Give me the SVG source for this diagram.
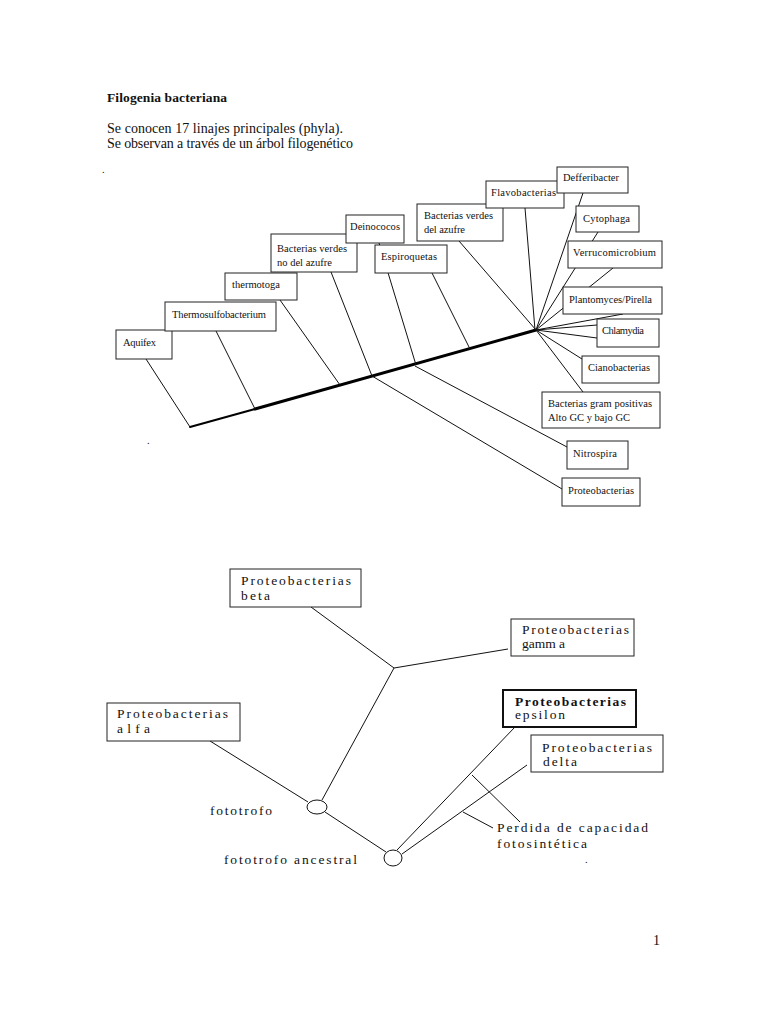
<svg xmlns="http://www.w3.org/2000/svg" width="768" height="1024" viewBox="0 0 768 1024">
<style>
text{font-family:"Liberation Serif","Times New Roman",serif;fill:#111}
.h{font-size:13.5px;font-weight:bold}
.p{font-size:14px}
.s{font-size:10.5px}
.l{font-size:13.5px}
.box{fill:#fff;stroke:#222;stroke-width:1}
.box2{fill:#fff;stroke:#111;stroke-width:2}
.c{stroke:#111;stroke-width:1;fill:none}
.main{stroke:#000;fill:none;stroke-linecap:round}
.ell{fill:#fff;stroke:#111;stroke-width:1}
</style>
<rect width="768" height="1024" fill="#fff"/>
<text class="h" x="107" y="102" textLength="120">Filogenia bacteriana</text>
<text class="p" x="107" y="133" textLength="236">Se conocen 17 linajes principales (phyla).</text>
<text class="p" x="107" y="148" textLength="246">Se observan a través de un árbol filogenético</text>
<text class="s" x="102" y="173">.</text>
<text class="s" x="147" y="444">.</text>
<text class="s" x="585" y="863">.</text>
<text class="p" x="653" y="945">1</text>

<g id="connectors">
<path class="main" stroke-width="2" d="M190 427 L255 409"/>
<path class="main" stroke-width="3" d="M255 409 L536 330"/>
<path class="c" d="M146 359 L190 427"/>
<path class="c" d="M216 331 L255 409"/>
<path class="c" d="M280 300 L340 385"/>
<path class="c" d="M331 272 L372 376"/>
<path class="c" d="M379 243 L416 365"/>
<path class="c" d="M432 273 L470 349"/>
<path class="c" d="M459 241 L536 330"/>
<path class="c" d="M525 208 L535 330"/>
<path class="c" d="M583 193 L536 330"/>
<path class="c" d="M598 232 L536 330"/>
<path class="c" d="M613 268 L536 330"/>
<path class="c" d="M623 314 L536 330"/>
<path class="c" d="M536 330 L597 325"/>
<path class="c" d="M536 330 L597 338"/>
<path class="c" d="M536 330 L582 359"/>
<path class="c" d="M536 330 L583 392"/>
<path class="c" d="M415 366 L567 447"/>
<path class="c" d="M372 376 L562 489"/>
<path class="c" d="M311 607 L394 668"/>
<path class="c" d="M508 649 L394 668"/>
<path class="c" d="M394 668 L322 800"/>
<path class="c" d="M210 741 L308 802"/>
<path class="c" d="M325 812 L386 852"/>
<path class="c" d="M397 850 L515 727"/>
<path class="c" d="M402 854 L527 765"/>
<path class="c" d="M472 775 L520 822"/>
<path class="c" d="M463 812 L493 828"/>
</g>

<g id="aquifex"><rect class="box" x="116" y="330" width="56" height="29"/><text class="s" x="123" y="346" textLength="33">Aquifex</text></g>
<g id="thermosulfobacterium"><rect class="box" x="165" y="302" width="111" height="29"/><text class="s" x="172" y="318" textLength="94">Thermosulfobacterium</text></g>
<g id="thermotoga"><rect class="box" x="225" y="273" width="72" height="27"/><text class="s" x="232" y="288" textLength="48">thermotoga</text></g>
<g id="bacterias-verdes-no-azufre"><rect class="box" x="271" y="234" width="86" height="38"/><text class="s" x="277" y="252" textLength="70">Bacterias verdes</text><text class="s" x="277" y="266" textLength="55">no del azufre</text></g>
<g id="deinococos"><rect class="box" x="346" y="215" width="58" height="28"/><text class="s" x="350" y="230" textLength="50">Deinococos</text></g>
<g id="espiroquetas"><rect class="box" x="375" y="245" width="72" height="28"/><text class="s" x="381" y="260" textLength="56">Espiroquetas</text></g>
<g id="bacterias-verdes-azufre"><rect class="box" x="417" y="204" width="86" height="37"/><text class="s" x="424" y="219" textLength="69">Bacterias verdes</text><text class="s" x="424" y="233" textLength="41">del azufre</text></g>
<g id="flavobacterias"><rect class="box" x="486" y="181" width="78" height="27"/><text class="s" x="491" y="196" textLength="65">Flavobacterias</text></g>
<g id="defferibacter"><rect class="box" x="557" y="167" width="71" height="26"/><text class="s" x="563" y="181" textLength="56">Defferibacter</text></g>
<g id="cytophaga"><rect class="box" x="576" y="206" width="63" height="26"/><text class="s" x="583" y="222" textLength="47">Cytophaga</text></g>
<g id="verrucomicrobium"><rect class="box" x="568" y="241" width="94" height="27"/><text class="s" x="573" y="256" textLength="83">Verrucomicrobium</text></g>
<g id="plantomyces"><rect class="box" x="563" y="287" width="99" height="27"/><text class="s" x="569" y="303" textLength="83">Plantomyces/Pirella</text></g>
<g id="chlamydia"><rect class="box" x="597" y="319" width="62" height="28"/><text class="s" x="602" y="334" textLength="42">Chlamydia</text></g>
<g id="cianobacterias"><rect class="box" x="582" y="356" width="77" height="27"/><text class="s" x="588" y="371" textLength="62">Cianobacterias</text></g>
<g id="gram-positivas"><rect class="box" x="542" y="392" width="118" height="36"/><text class="s" x="548" y="407" textLength="104">Bacterias gram positivas</text><text class="s" x="548" y="421" textLength="82">Alto GC y bajo GC</text></g>
<g id="nitrospira"><rect class="box" x="567" y="441" width="61" height="28"/><text class="s" x="573" y="457" textLength="44">Nitrospira</text></g>
<g id="proteobacterias"><rect class="box" x="562" y="478" width="78" height="28"/><text class="s" x="568" y="494" textLength="66">Proteobacterias</text></g>

<g id="proteo-beta"><rect class="box" x="230" y="569" width="131" height="38"/><text class="l" x="241" y="585" textLength="110">Proteobacterias</text><text class="l" x="241" y="600" textLength="29">beta</text></g>
<g id="proteo-gamma"><rect class="box" x="511" y="619" width="123" height="37"/><text class="l" x="522" y="634" textLength="107">Proteobacterias</text><text class="l" x="522" y="648" font-size="12.5">gamm a</text></g>
<g id="proteo-alfa"><rect class="box" x="107" y="703" width="133" height="38"/><text class="l" x="117" y="718" textLength="111">Proteobacterias</text><text class="l" x="117" y="733" textLength="33">alfa</text></g>
<g id="proteo-epsilon"><rect class="box2" x="503" y="690" width="133" height="37"/><text class="l" x="515" y="706" textLength="111" font-weight="bold">Proteobacterias</text><text class="l" x="515" y="719" textLength="50">epsilon</text></g>
<g id="proteo-delta"><rect class="box" x="531" y="735" width="132" height="37"/><text class="l" x="542" y="752" textLength="110">Proteobacterias</text><text class="l" x="543" y="766" textLength="34">delta</text></g>
<g id="fototrofo"><ellipse class="ell" cx="317" cy="807" rx="10" ry="7"/><text class="l" x="210" y="815" textLength="62">fototrofo</text></g>
<g id="fototrofo-ancestral"><ellipse class="ell" cx="393" cy="858" rx="9" ry="8"/><text class="l" x="224" y="864" textLength="133">fototrofo ancestral</text></g>
<g id="perdida"><text class="l" x="497" y="832" textLength="151">Perdida de capacidad</text><text class="l" x="497" y="848" textLength="90">fotosintética</text></g>
</svg>
